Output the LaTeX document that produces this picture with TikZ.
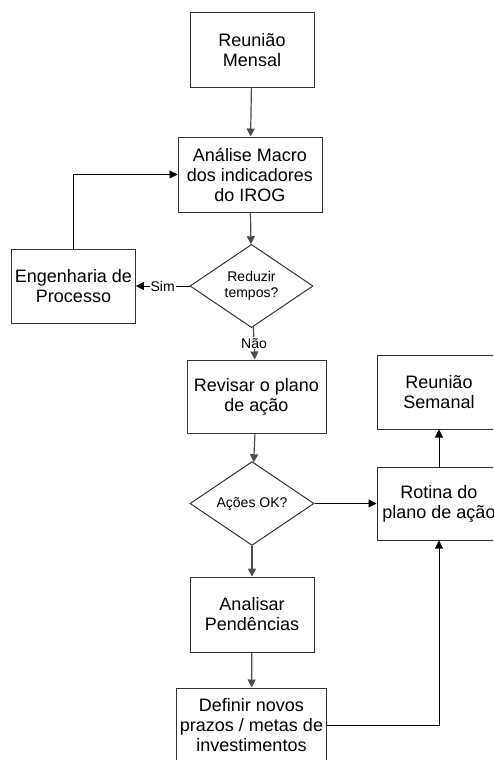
\documentclass[tikz,border=0pt]{standalone}
\usepackage{fontspec}
\setmainfont{Liberation Sans}
\usetikzlibrary{shapes.geometric,arrows.meta}

\begin{document}
\begin{tikzpicture}[x=1pt, y=-1pt, >={Triangle[length=8pt,width=8pt]},
                block/.style={rectangle, draw=black!80, line width=1pt, minimum width=124pt, minimum height=74pt, align=center, font=\fontsize{18}{20}\selectfont},
                decision/.style={diamond, draw=black!80, line width=1pt, inner sep=0pt, minimum width=124pt, minimum height=74pt, align=center, font=\fontsize{14}{16.5}\selectfont},
                flow/.style={->, draw=black!70, line width=1.2pt},
                link/.style={->, draw=black, line width=0.8pt},
                tag/.style={fill=white, inner sep=1pt, font=\fontsize{14}{16.5}\selectfont}
            ]

            \useasboundingbox (0,0) rectangle (493,760);
            \clip (0,0) rectangle (493,760);

            % Main column
            \node[block] (mensal) at (252, 50) {Reunião\\Mensal};
            \node[block, minimum width=144pt, minimum height=75pt] (macro) at (250, 174.5) {Análise Macro\\dos indicadores\\do IROG};
            \node[decision, minimum width=123pt] (reduzir) at (251.5, 286) {Reduzir\\tempos?};
            \node[block, minimum width=139pt, minimum height=73pt] (revisar) at (256.5, 396.5) {Revisar o plano\\de ação};
            \node[decision, minimum height=73pt] (acoes) at (252, 503.5) {Ações OK?};
            \node[block, minimum height=75pt] (analisar) at (252, 614.5) {Analisar\\Pendências};
            \node[block, minimum width=147pt, minimum height=75pt] (definir) at (251.5, 725.5) {Definir novos\\prazos / metas de\\investimentos};

            % Side boxes
            \node[block, minimum width=123pt] (eng) at (73.5, 286) {Engenharia de\\Processo};
            \node[block] (semanal) at (439, 392) {Reunião\\Semanal};
            \node[block, minimum height=73pt] (rotina) at (439, 503.5) {Rotina do\\plano de ação};

            % Connectors
            \draw[flow] (mensal) -- (macro);
            \draw[flow] (macro) -- (reduzir);
            \draw[flow] (reduzir) -- node[tag] {Não} (revisar);
            \draw[flow] (revisar) -- (acoes);
            \draw[flow] (acoes) -- (analisar);
            \draw[flow] (analisar) -- (definir);

            \draw[link] (reduzir.west) -- node[tag] {Sim} (eng.east);
            \draw[link] (eng.north) |- (macro.west);
            \draw[link] (acoes.east) -- (rotina.west);
            \draw[link] (rotina.north) -- (semanal.south);
            \draw[link] (definir.east) -| (rotina.south);

        \end{tikzpicture}
\end{document}
